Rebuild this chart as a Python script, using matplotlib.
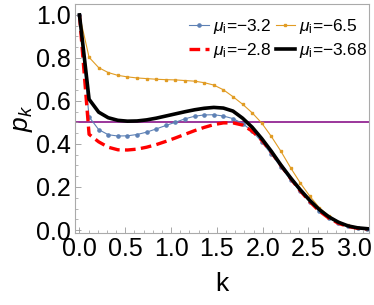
import numpy as np
import matplotlib
matplotlib.use('Agg')
import matplotlib.pyplot as plt
from matplotlib.ticker import MultipleLocator

plt.rcParams['font.family'] = 'Liberation Sans'
plt.rcParams['mathtext.fontset'] = 'custom'
plt.rcParams['mathtext.rm'] = 'Liberation Sans'
plt.rcParams['mathtext.it'] = 'Liberation Sans:italic'

# k grid: 31 points from 0 to pi
k = np.linspace(0, np.pi, 31)

p_blue = [1.0, 0.526, 0.467, 0.443, 0.437, 0.438, 0.444, 0.455, 0.470, 0.486,
          0.501, 0.517, 0.529, 0.535, 0.536, 0.530, 0.518, 0.495, 0.460, 0.410,
          0.352, 0.292, 0.234, 0.180, 0.132, 0.090, 0.057, 0.033, 0.017, 0.009, 0.005]
p_orange = [1.0, 0.803, 0.755, 0.732, 0.719, 0.712, 0.707, 0.704, 0.701, 0.699,
            0.698, 0.695, 0.692, 0.685, 0.674, 0.652, 0.620, 0.585, 0.545, 0.497,
            0.435, 0.366, 0.290, 0.220, 0.158, 0.104, 0.066, 0.039, 0.021, 0.011, 0.006]
p_red = [1.0, 0.445, 0.410, 0.385, 0.373, 0.372, 0.376, 0.385, 0.397, 0.412,
         0.428, 0.445, 0.462, 0.477, 0.490, 0.498, 0.498, 0.488, 0.460, 0.418,
         0.362, 0.300, 0.240, 0.183, 0.132, 0.088, 0.055, 0.031, 0.016, 0.008, 0.005]
p_black = [1.0, 0.608, 0.548, 0.522, 0.510, 0.506, 0.507, 0.512, 0.520, 0.530,
           0.540, 0.550, 0.559, 0.566, 0.570, 0.567, 0.553, 0.520, 0.478, 0.425,
           0.366, 0.302, 0.243, 0.188, 0.138, 0.095, 0.061, 0.036, 0.019, 0.010, 0.006]
labels = ['-3.2', '-6.5', '-2.8', '-3.68']
p_half = 0.5

fig = plt.figure(figsize=(3.74, 3.05), dpi=100)
ax = fig.add_axes([0.2005, 0.236, 0.786, 0.751])

def lab(s):
    return r'$\mu_{\mathrm{i}}$=' + s.replace('-', '\u2212')

ax.axhline(p_half, color='#800080', lw=1.1, zorder=1)
ax.plot(k, p_orange, color='#E19C24', lw=0.8, marker='s', ms=1.6, label=lab(labels[1]), zorder=2)
ax.plot(k, p_blue, color='#5E81B5', lw=0.8, marker='o', ms=2.3, label=lab(labels[0]), zorder=3)
ax.plot(k, p_red, color='red', lw=2.4, dashes=(3.2, 1.6), label=lab(labels[2]), zorder=4)
ax.plot(k, p_black, color='black', lw=2.6, label=lab(labels[3]), zorder=5)

ax.set_xlim(-0.049, 3.16)
ax.set_ylim(-0.014, 1.051)
ax.xaxis.set_major_locator(MultipleLocator(0.5))
ax.xaxis.set_minor_locator(MultipleLocator(0.1))
ax.yaxis.set_major_locator(MultipleLocator(0.2))
ax.yaxis.set_minor_locator(MultipleLocator(0.05))
ax.xaxis.set_major_formatter(plt.FuncFormatter(lambda v, _: f'{v:.1f}'))
ax.yaxis.set_major_formatter(plt.FuncFormatter(lambda v, _: f'{v:.1f}'))
ax.tick_params(which='both', direction='in', colors='#999999', labelcolor='black',
               labelsize=18, top=False, right=False)
ax.tick_params(which='major', length=4, width=0.6, pad=3)
ax.tick_params(which='minor', length=2.2, width=0.5)
for s in ax.spines.values():
    s.set_color('#aaaaaa')
    s.set_linewidth(0.8)

ax.set_xlabel('k', fontsize=19, labelpad=8)
ax.set_ylabel(r'$p_k$', fontsize=19, labelpad=1)

h, l = ax.get_legend_handles_labels()
order = [1, 2, 0, 3]
leg = ax.legend([h[i] for i in order], [l[i] for i in order], ncol=2, loc='upper left',
                bbox_to_anchor=(0.345, 1.0), frameon=False, fontsize=12.5,
                handlelength=1.1, handletextpad=0.25, columnspacing=0.25,
                borderpad=0.25, labelspacing=0.3)

fig.savefig('out.png', dpi=100)
